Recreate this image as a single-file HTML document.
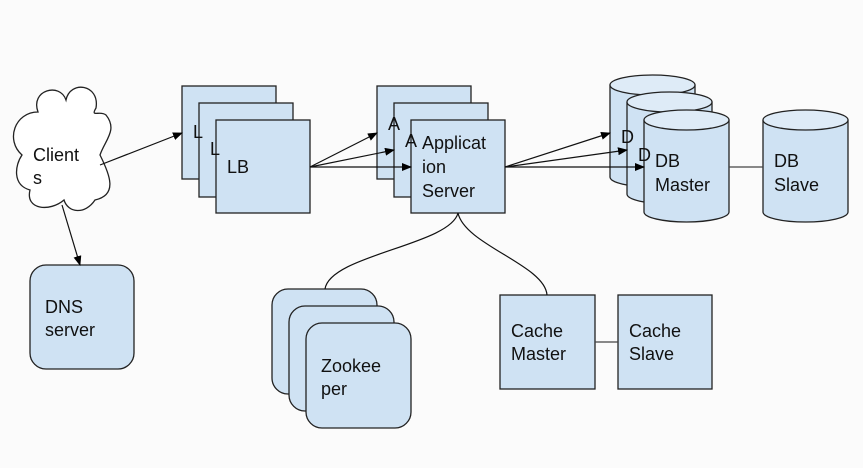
<!DOCTYPE html>
<html><head><style>
html,body{margin:0;padding:0;background:#fbfbfb;}
svg{display:block}
text{font-family:"Liberation Sans",Arial,sans-serif;font-size:18px;fill:#111;}
</style></head><body>
<svg width="863" height="468" viewBox="0 0 863 468">
<defs><marker id="a" markerWidth="10" markerHeight="8" refX="9" refY="4" orient="auto" markerUnits="userSpaceOnUse"><path d="M0,0 L10,4 L0,8 z" fill="#000"/></marker></defs>
<g stroke="#222" stroke-width="1.3" fill="#cfe2f3">
<!-- cloud -->
<path fill="#fff" d="M38,112 C30,90 60,82 66,100 C70,80 100,84 96,108 C90,118 100,110 106,115 C118,130 105,140 100,155 C110,175 118,195 95,200 C85,215 68,213 64,200 C50,212 25,210 30,190 C12,185 15,165 22,155 C5,140 15,112 38,112 Z"/>
<rect x="182" y="86" width="94" height="93"/>
<rect x="199" y="103" width="94" height="94"/>
<rect x="216" y="120" width="94" height="93"/>
<rect x="377" y="86" width="94" height="93"/>
<rect x="394" y="103" width="94" height="94"/>
<rect x="411" y="120" width="94" height="93"/>
<!-- cylinders -->
<path d="M610,85 V177 A42.5,10 0 0 0 695,177 V85"/><ellipse cx="652.5" cy="85" rx="42.5" ry="10" fill="#deebf7"/>
<path d="M627,102 V194 A42.5,10 0 0 0 712,194 V102"/><ellipse cx="669.5" cy="102" rx="42.5" ry="10" fill="#deebf7"/>
<path d="M644,120 V212 A42.5,10 0 0 0 729,212 V120"/><ellipse cx="686.5" cy="120" rx="42.5" ry="10" fill="#deebf7"/>
<path d="M763,120 V212 A42.5,10 0 0 0 848,212 V120"/><ellipse cx="805.5" cy="120" rx="42.5" ry="10" fill="#deebf7"/>
<rect x="30" y="265" width="104" height="104" rx="16"/>
<rect x="272" y="289" width="105" height="105" rx="16"/>
<rect x="289" y="306" width="105" height="105" rx="16"/>
<rect x="306" y="323" width="105" height="105" rx="16"/>
<rect x="500" y="295" width="95" height="94"/>
<rect x="618" y="295" width="94" height="94"/>
</g>
<g stroke="#111" stroke-width="1.2" fill="none">
<line x1="100" y1="165" x2="182" y2="133" marker-end="url(#a)"/>
<line x1="62" y1="205" x2="80" y2="265" marker-end="url(#a)"/>
<line x1="310" y1="167" x2="377" y2="133" marker-end="url(#a)"/>
<line x1="310" y1="167" x2="394" y2="150" marker-end="url(#a)"/>
<line x1="310" y1="167" x2="411" y2="167" marker-end="url(#a)"/>
<line x1="505" y1="167" x2="610" y2="133" marker-end="url(#a)"/>
<line x1="505" y1="167" x2="627" y2="150" marker-end="url(#a)"/>
<line x1="505" y1="167" x2="644" y2="167" marker-end="url(#a)"/>
<line x1="729" y1="167" x2="763" y2="167" stroke="#444"/>
<line x1="595" y1="342" x2="618" y2="342" stroke="#444"/>
<path d="M458,213 C450,245 330,255 325,289"/>
<path d="M458,213 C465,245 545,265 547,295"/>
</g>
<text x="33" y="161">Client</text><text x="33" y="184">s</text>
<text x="193" y="138">L</text><text x="210" y="155">L</text>
<text x="227" y="173">LB</text>
<text x="388" y="130">A</text><text x="405" y="147">A</text>
<text x="422" y="149">Applicat</text><text x="422" y="173">ion</text><text x="422" y="197">Server</text>
<text x="621" y="143">D</text><text x="638" y="161">D</text>
<text x="655" y="167">DB</text><text x="655" y="191">Master</text>
<text x="774" y="167">DB</text><text x="774" y="191">Slave</text>
<text x="45" y="313">DNS</text><text x="45" y="336">server</text>
<text x="321" y="372">Zookee</text><text x="321" y="395">per</text>
<text x="511" y="337">Cache</text><text x="511" y="360">Master</text>
<text x="629" y="337">Cache</text><text x="629" y="360">Slave</text>
</svg>
</body></html>
